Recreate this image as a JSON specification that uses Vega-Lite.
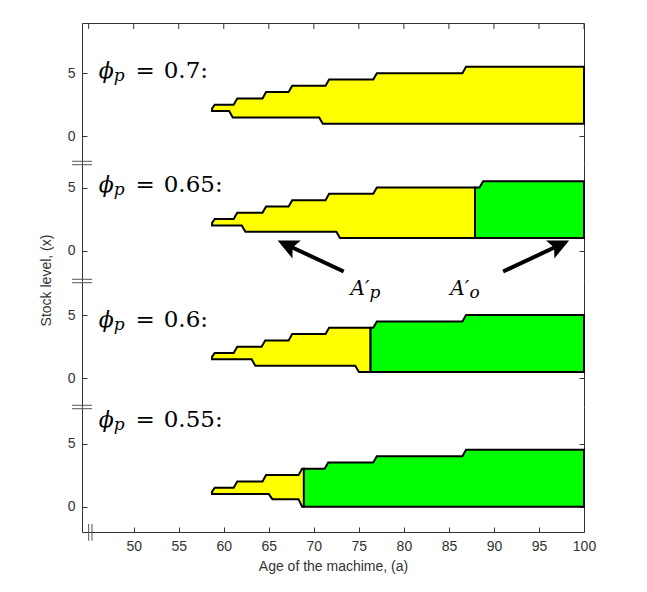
{
  "$schema": "https://vega.github.io/schema/vega-lite/v6.json",
  "padding": {"left": 38, "top": 23, "right": 5, "bottom": 5},
  "background": "white",
  "spacing": 0,
  "bounds": "flush",
  "resolve": {"scale": {"x": "independent", "y": "independent"}, "axis": {"x": "independent", "y": "independent"}},
  "config": {
    "view": {"stroke": null},
    "axis": {
      "grid": false, "domainColor": "#333333", "tickColor": "#333333", "labelColor": "#333333",
      "labelFont": "Liberation Sans", "labelFontSize": 14, "titleFont": "Liberation Sans",
      "titleFontSize": 14, "titleFontWeight": "normal", "titleColor": "#333333",
      "labelFlush": false, "tickSize": -5, "labelPadding": 12, "domainWidth": 1, "tickWidth": 1
    }
  },
  "datasets": {
    "shapes": [
      {"phi":0.7,"region":"Ap","age":58.7,"level":2.2,"level2":2.0},
      {"phi":0.7,"region":"Ap","age":59.0,"level":2.5,"level2":2.0},
      {"phi":0.7,"region":"Ap","age":60.6,"level":2.5,"level2":2.0},
      {"phi":0.7,"region":"Ap","age":61.0,"level":2.5,"level2":1.5},
      {"phi":0.7,"region":"Ap","age":61.1,"level":2.5,"level2":1.5},
      {"phi":0.7,"region":"Ap","age":61.5,"level":3.0,"level2":1.5},
      {"phi":0.7,"region":"Ap","age":64.3,"level":3.0,"level2":1.5},
      {"phi":0.7,"region":"Ap","age":64.7,"level":3.5,"level2":1.5},
      {"phi":0.7,"region":"Ap","age":67.2,"level":3.5,"level2":1.5},
      {"phi":0.7,"region":"Ap","age":67.6,"level":4.0,"level2":1.5},
      {"phi":0.7,"region":"Ap","age":70.6,"level":4.0,"level2":1.5},
      {"phi":0.7,"region":"Ap","age":71.0,"level":4.0,"level2":1.0},
      {"phi":0.7,"region":"Ap","age":71.3,"level":4.0,"level2":1.0},
      {"phi":0.7,"region":"Ap","age":71.7,"level":4.5,"level2":1.0},
      {"phi":0.7,"region":"Ap","age":76.6,"level":4.5,"level2":1.0},
      {"phi":0.7,"region":"Ap","age":77.0,"level":5.0,"level2":1.0},
      {"phi":0.7,"region":"Ap","age":86.5,"level":5.0,"level2":1.0},
      {"phi":0.7,"region":"Ap","age":86.9,"level":5.5,"level2":1.0},
      {"phi":0.7,"region":"Ap","age":100,"level":5.5,"level2":1.0},

      {"phi":0.65,"region":"Ap","age":58.7,"level":2.2,"level2":2.0},
      {"phi":0.65,"region":"Ap","age":59.0,"level":2.5,"level2":2.0},
      {"phi":0.65,"region":"Ap","age":61.1,"level":2.5,"level2":2.0},
      {"phi":0.65,"region":"Ap","age":61.5,"level":3.0,"level2":2.0},
      {"phi":0.65,"region":"Ap","age":62.0,"level":3.0,"level2":2.0},
      {"phi":0.65,"region":"Ap","age":62.4,"level":3.0,"level2":1.5},
      {"phi":0.65,"region":"Ap","age":64.3,"level":3.0,"level2":1.5},
      {"phi":0.65,"region":"Ap","age":64.7,"level":3.5,"level2":1.5},
      {"phi":0.65,"region":"Ap","age":67.2,"level":3.5,"level2":1.5},
      {"phi":0.65,"region":"Ap","age":67.6,"level":4.0,"level2":1.5},
      {"phi":0.65,"region":"Ap","age":71.3,"level":4.0,"level2":1.5},
      {"phi":0.65,"region":"Ap","age":71.7,"level":4.5,"level2":1.5},
      {"phi":0.65,"region":"Ap","age":72.5,"level":4.5,"level2":1.5},
      {"phi":0.65,"region":"Ap","age":72.9,"level":4.5,"level2":1.0},
      {"phi":0.65,"region":"Ap","age":76.6,"level":4.5,"level2":1.0},
      {"phi":0.65,"region":"Ap","age":77.0,"level":5.0,"level2":1.0},
      {"phi":0.65,"region":"Ap","age":87.9,"level":5.0,"level2":1.0},
      {"phi":0.65,"region":"Ao","age":87.9,"level":5.0,"level2":1.0},
      {"phi":0.65,"region":"Ao","age":88.4,"level":5.0,"level2":1.0},
      {"phi":0.65,"region":"Ao","age":88.8,"level":5.5,"level2":1.0},
      {"phi":0.65,"region":"Ao","age":100,"level":5.5,"level2":1.0},

      {"phi":0.6,"region":"Ap","age":58.7,"level":1.7,"level2":1.5},
      {"phi":0.6,"region":"Ap","age":59.0,"level":2.0,"level2":1.5},
      {"phi":0.6,"region":"Ap","age":61.1,"level":2.0,"level2":1.5},
      {"phi":0.6,"region":"Ap","age":61.5,"level":2.5,"level2":1.5},
      {"phi":0.6,"region":"Ap","age":63.1,"level":2.5,"level2":1.5},
      {"phi":0.6,"region":"Ap","age":63.5,"level":2.5,"level2":1.0},
      {"phi":0.6,"region":"Ap","age":64.2,"level":2.5,"level2":1.0},
      {"phi":0.6,"region":"Ap","age":64.6,"level":3.0,"level2":1.0},
      {"phi":0.6,"region":"Ap","age":67.2,"level":3.0,"level2":1.0},
      {"phi":0.6,"region":"Ap","age":67.6,"level":3.5,"level2":1.0},
      {"phi":0.6,"region":"Ap","age":71.3,"level":3.5,"level2":1.0},
      {"phi":0.6,"region":"Ap","age":71.7,"level":4.0,"level2":1.0},
      {"phi":0.6,"region":"Ap","age":74.6,"level":4.0,"level2":1.0},
      {"phi":0.6,"region":"Ap","age":75.0,"level":4.0,"level2":0.5},
      {"phi":0.6,"region":"Ap","age":76.3,"level":4.0,"level2":0.5},
      {"phi":0.6,"region":"Ao","age":76.3,"level":4.0,"level2":0.5},
      {"phi":0.6,"region":"Ao","age":76.6,"level":4.0,"level2":0.5},
      {"phi":0.6,"region":"Ao","age":77.0,"level":4.5,"level2":0.5},
      {"phi":0.6,"region":"Ao","age":86.5,"level":4.5,"level2":0.5},
      {"phi":0.6,"region":"Ao","age":86.9,"level":5.0,"level2":0.5},
      {"phi":0.6,"region":"Ao","age":100,"level":5.0,"level2":0.5},

      {"phi":0.55,"region":"Ap","age":58.7,"level":1.2,"level2":1.0},
      {"phi":0.55,"region":"Ap","age":59.0,"level":1.5,"level2":1.0},
      {"phi":0.55,"region":"Ap","age":61.1,"level":1.5,"level2":1.0},
      {"phi":0.55,"region":"Ap","age":61.5,"level":2.0,"level2":1.0},
      {"phi":0.55,"region":"Ap","age":64.3,"level":2.0,"level2":1.0},
      {"phi":0.55,"region":"Ap","age":64.7,"level":2.5,"level2":1.0},
      {"phi":0.55,"region":"Ap","age":65.0,"level":2.5,"level2":1.0},
      {"phi":0.55,"region":"Ap","age":65.4,"level":2.5,"level2":0.6},
      {"phi":0.55,"region":"Ap","age":68.3,"level":2.5,"level2":0.6},
      {"phi":0.55,"region":"Ap","age":68.7,"level":3.0,"level2":0.0},
      {"phi":0.55,"region":"Ap","age":68.9,"level":3.0,"level2":0.0},
      {"phi":0.55,"region":"Ao","age":68.9,"level":3.0,"level2":0.0},
      {"phi":0.55,"region":"Ao","age":71.2,"level":3.0,"level2":0.0},
      {"phi":0.55,"region":"Ao","age":71.6,"level":3.5,"level2":0.0},
      {"phi":0.55,"region":"Ao","age":76.6,"level":3.5,"level2":0.0},
      {"phi":0.55,"region":"Ao","age":77.0,"level":4.0,"level2":0.0},
      {"phi":0.55,"region":"Ao","age":86.5,"level":4.0,"level2":0.0},
      {"phi":0.55,"region":"Ao","age":86.9,"level":4.5,"level2":0.0},
      {"phi":0.55,"region":"Ao","age":100,"level":4.5,"level2":0.0}
    ],
    "texts": [
      {"phi":0.7,"part":"symbol","text":"ϕ","age":46.11,"level":4.59},
      {"phi":0.7,"part":"sub","text":"p","age":47.78,"level":4.35},
      {"phi":0.7,"part":"value","text":"=","age":50.19,"level":4.59},
      {"phi":0.7,"part":"value","text":"0.7:","age":53.33,"level":4.59},
      {"phi":0.65,"part":"symbol","text":"ϕ","age":46.11,"level":4.62},
      {"phi":0.65,"part":"sub","text":"p","age":47.78,"level":4.38},
      {"phi":0.65,"part":"value","text":"=","age":50.19,"level":4.62},
      {"phi":0.65,"part":"value","text":"0.65:","age":53.33,"level":4.62},
      {"phi":0.6,"part":"symbol","text":"ϕ","age":46.11,"level":4.09},
      {"phi":0.6,"part":"sub","text":"p","age":47.78,"level":3.85},
      {"phi":0.6,"part":"value","text":"=","age":50.19,"level":4.09},
      {"phi":0.6,"part":"value","text":"0.6:","age":53.33,"level":4.09},
      {"phi":0.55,"part":"symbol","text":"ϕ","age":46.11,"level":6.29},
      {"phi":0.55,"part":"sub","text":"p","age":47.78,"level":6.05},
      {"phi":0.55,"part":"value","text":"=","age":50.19,"level":6.29},
      {"phi":0.55,"part":"value","text":"0.55:","age":53.33,"level":6.29},
      {"phi":0.6,"part":"note","text":"A′","age":74.08,"level":6.57},
      {"phi":0.6,"part":"sub","text":"p","age":76.18,"level":6.36},
      {"phi":0.6,"part":"note","text":"A′","age":85.16,"level":6.57},
      {"phi":0.6,"part":"sub","text":"o","age":87.3,"level":6.36}
    ],
    "lines": [
      {"phi":0.65,"kind":"break","age":43.16,"level":7.075,"age2":45.38,"level2":7.075},
      {"phi":0.65,"kind":"break","age":43.16,"level":6.805,"age2":45.38,"level2":6.805},
      {"phi":0.6,"kind":"break","age":43.16,"level":7.835,"age2":45.38,"level2":7.835},
      {"phi":0.6,"kind":"break","age":43.16,"level":7.565,"age2":45.38,"level2":7.565},
      {"phi":0.55,"kind":"break","age":43.16,"level":8.025,"age2":45.38,"level2":8.025},
      {"phi":0.55,"kind":"break","age":43.16,"level":7.755,"age2":45.38,"level2":7.755},
      {"phi":0.55,"kind":"break","age":45.0,"level":-1.37,"age2":45.0,"level2":-2.69},
      {"phi":0.55,"kind":"break","age":45.37,"level":-1.37,"age2":45.37,"level2":-2.69},
      {"phi":0.65,"kind":"arrow","age":73.32,"level":-1.65,"age2":67.09,"level2":0.428},
      {"phi":0.65,"kind":"arrow","age":91.02,"level":-1.65,"age2":97.24,"level2":0.428}
    ],
    "heads": [
      {"phi":0.65,"dir":"left","age":67.09,"level":0.428},
      {"phi":0.65,"dir":"right","age":97.24,"level":0.428}
    ]
  },
  "vconcat": [
    {
      "width": 502, "height": 140,
      "encoding": {
        "x": {"field": "age", "type": "quantitative", "scale": {"domain": [44.26, 100], "nice": false, "zero": false}, "axis": null},
        "y": {"field": "level", "type": "quantitative", "scale": {"domain": [-2.11, 8.97], "nice": false, "zero": false}, "axis": null}
      },
      "layer": [
        {"data": {"name": "shapes"}, "transform": [{"filter": "datum.phi == 0.7 && datum.region == 'Ap'"}],
         "mark": {"type": "area", "orient": "vertical", "fill": "#ffff00", "stroke": "#000000", "strokeWidth": 2},
         "encoding": {
           "y": {"field": "level", "type": "quantitative", "scale": {"domain": [-2.11, 8.97], "nice": false, "zero": false},
                 "axis": {"orient": "left", "values": [0, 5], "title": null}},
           "y2": {"field": "level2"}}},
        {"data": {"name": "shapes"}, "transform": [{"filter": "datum.phi == 0.7 && datum.region == 'Ao'"}],
         "mark": {"type": "area", "orient": "vertical", "fill": "#00ff00", "stroke": "#000000", "strokeWidth": 2},
         "encoding": {
           "y": {"field": "level", "type": "quantitative", "scale": {"domain": [-2.11, 8.97], "nice": false, "zero": false},
                 "axis": {"orient": "right", "values": [0, 5, 8.772, 8.97], "labels": false, "title": null,
                          "grid": true, "gridColor": "#333333",
                          "gridOpacity": {"condition": {"test": "datum.value > 8", "value": 1}, "value": 0},
                          "gridWidth": {"condition": {"test": "datum.value > 8 && datum.value < 8.9", "value": 5}, "value": 1},
                          "gridDash": {"condition": {"test": "datum.value > 8 && datum.value < 8.9", "value": [1, 44.03]}, "value": []},
                          "tickOpacity": {"condition": {"test": "datum.value > 8", "value": 0}, "value": 1}}},
           "y2": {"field": "level2"}}},
        {"data": {"name": "texts"}, "transform": [{"filter": "datum.phi == 0.7 && datum.part == 'symbol'"}],
         "mark": {"type": "text", "align": "left", "baseline": "alphabetic", "font": "DejaVu Serif", "fontStyle": "italic", "fontSize": 22, "color": "#000000"},
         "encoding": {"text": {"field": "text"}}},
        {"data": {"name": "texts"}, "transform": [{"filter": "datum.phi == 0.7 && datum.part == 'sub'"}],
         "mark": {"type": "text", "align": "left", "baseline": "alphabetic", "font": "DejaVu Serif", "fontStyle": "italic", "fontSize": 17, "color": "#000000"},
         "encoding": {"text": {"field": "text"}}},
        {"data": {"name": "texts"}, "transform": [{"filter": "datum.phi == 0.7 && datum.part == 'value'"}],
         "mark": {"type": "text", "align": "left", "baseline": "alphabetic", "font": "DejaVu Serif", "fontSize": 23, "color": "#000000"},
         "encoding": {"text": {"field": "text"}}}
      ],
      "resolve": {"axis": {"y": "independent"}}
    },
    {
      "width": 502, "height": 118,
      "encoding": {
        "x": {"field": "age", "type": "quantitative", "scale": {"domain": [44.26, 100], "nice": false, "zero": false}, "axis": null},
        "y": {"field": "level", "type": "quantitative", "scale": {"domain": [-2.40, 6.94], "nice": false, "zero": false}, "axis": null}
      },
      "layer": [
        {"data": {"name": "shapes"}, "transform": [{"filter": "datum.phi == 0.65 && datum.region == 'Ap'"}],
         "mark": {"type": "area", "orient": "vertical", "fill": "#ffff00", "stroke": "#000000", "strokeWidth": 2},
         "encoding": {
           "y": {"field": "level", "type": "quantitative", "scale": {"domain": [-2.40, 6.94], "nice": false, "zero": false},
                 "axis": {"orient": "left", "values": [0, 5], "title": null}},
           "y2": {"field": "level2"}}},
        {"data": {"name": "shapes"}, "transform": [{"filter": "datum.phi == 0.65 && datum.region == 'Ao'"}],
         "mark": {"type": "area", "orient": "vertical", "fill": "#00ff00", "stroke": "#000000", "strokeWidth": 2},
         "encoding": {
           "y": {"field": "level", "type": "quantitative", "scale": {"domain": [-2.40, 6.94], "nice": false, "zero": false},
                 "axis": {"orient": "right", "values": [0, 5], "labels": false, "title": null}},
           "y2": {"field": "level2"}}},
        {"data": {"name": "texts"}, "transform": [{"filter": "datum.phi == 0.65 && datum.part == 'symbol'"}],
         "mark": {"type": "text", "align": "left", "baseline": "alphabetic", "font": "DejaVu Serif", "fontStyle": "italic", "fontSize": 22, "color": "#000000"},
         "encoding": {"text": {"field": "text"}}},
        {"data": {"name": "texts"}, "transform": [{"filter": "datum.phi == 0.65 && datum.part == 'sub'"}],
         "mark": {"type": "text", "align": "left", "baseline": "alphabetic", "font": "DejaVu Serif", "fontStyle": "italic", "fontSize": 17, "color": "#000000"},
         "encoding": {"text": {"field": "text"}}},
        {"data": {"name": "texts"}, "transform": [{"filter": "datum.phi == 0.65 && datum.part == 'value'"}],
         "mark": {"type": "text", "align": "left", "baseline": "alphabetic", "font": "DejaVu Serif", "fontSize": 23, "color": "#000000"},
         "encoding": {"text": {"field": "text"}}},
        {"data": {"name": "lines"}, "transform": [{"filter": "datum.phi == 0.65 && datum.kind == 'break'"}],
         "mark": {"type": "rule", "color": "#555555", "strokeWidth": 1},
         "encoding": {"x2": {"field": "age2"}, "y2": {"field": "level2"}}},
        {"data": {"name": "lines"}, "transform": [{"filter": "datum.phi == 0.65 && datum.kind == 'arrow'"}],
         "mark": {"type": "rule", "color": "#000000", "strokeWidth": 4},
         "encoding": {"x2": {"field": "age2"}, "y2": {"field": "level2"}}},
        {"data": {"name": "heads"}, "transform": [{"filter": "datum.dir == 'left'"}],
         "mark": {"type": "point", "shape": "M0,-1L0.9,0.9L0,0.5L-0.9,0.9Z", "filled": true, "fill": "#000000", "opacity": 1, "strokeWidth": 0, "size": 484, "angle": 295}},
        {"data": {"name": "heads"}, "transform": [{"filter": "datum.dir == 'right'"}],
         "mark": {"type": "point", "shape": "M0,-1L0.9,0.9L0,0.5L-0.9,0.9Z", "filled": true, "fill": "#000000", "opacity": 1, "strokeWidth": 0, "size": 484, "angle": 65}}
      ],
      "resolve": {"axis": {"y": "independent"}}
    },
    {
      "width": 502, "height": 126,
      "encoding": {
        "x": {"field": "age", "type": "quantitative", "scale": {"domain": [44.26, 100], "nice": false, "zero": false}, "axis": null},
        "y": {"field": "level", "type": "quantitative", "scale": {"domain": [-2.27, 7.70], "nice": false, "zero": false}, "axis": null}
      },
      "layer": [
        {"data": {"name": "shapes"}, "transform": [{"filter": "datum.phi == 0.6 && datum.region == 'Ap'"}],
         "mark": {"type": "area", "orient": "vertical", "fill": "#ffff00", "stroke": "#000000", "strokeWidth": 2},
         "encoding": {
           "y": {"field": "level", "type": "quantitative", "scale": {"domain": [-2.27, 7.70], "nice": false, "zero": false},
                 "axis": {"orient": "left", "values": [0, 5], "title": "Stock level, (x)", "titleX": -36, "titleY": -1,
                          "titleAngle": -90, "titleAlign": "center", "titleBaseline": "middle"}},
           "y2": {"field": "level2"}}},
        {"data": {"name": "shapes"}, "transform": [{"filter": "datum.phi == 0.6 && datum.region == 'Ao'"}],
         "mark": {"type": "area", "orient": "vertical", "fill": "#00ff00", "stroke": "#000000", "strokeWidth": 2},
         "encoding": {
           "y": {"field": "level", "type": "quantitative", "scale": {"domain": [-2.27, 7.70], "nice": false, "zero": false},
                 "axis": {"orient": "right", "values": [0, 5], "labels": false, "title": null}},
           "y2": {"field": "level2"}}},
        {"data": {"name": "texts"}, "transform": [{"filter": "datum.phi == 0.6 && datum.part == 'symbol'"}],
         "mark": {"type": "text", "align": "left", "baseline": "alphabetic", "font": "DejaVu Serif", "fontStyle": "italic", "fontSize": 22, "color": "#000000"},
         "encoding": {"text": {"field": "text"}}},
        {"data": {"name": "texts"}, "transform": [{"filter": "datum.phi == 0.6 && datum.part == 'sub'"}],
         "mark": {"type": "text", "align": "left", "baseline": "alphabetic", "font": "DejaVu Serif", "fontStyle": "italic", "fontSize": 17, "color": "#000000"},
         "encoding": {"text": {"field": "text"}}},
        {"data": {"name": "texts"}, "transform": [{"filter": "datum.phi == 0.6 && datum.part == 'value'"}],
         "mark": {"type": "text", "align": "left", "baseline": "alphabetic", "font": "DejaVu Serif", "fontSize": 23, "color": "#000000"},
         "encoding": {"text": {"field": "text"}}},
        {"data": {"name": "texts"}, "transform": [{"filter": "datum.phi == 0.6 && datum.part == 'note'"}],
         "mark": {"type": "text", "align": "left", "baseline": "alphabetic", "font": "DejaVu Serif", "fontStyle": "italic", "fontSize": 20, "color": "#000000"},
         "encoding": {"text": {"field": "text"}}},
        {"data": {"name": "lines"}, "transform": [{"filter": "datum.phi == 0.6 && datum.kind == 'break'"}],
         "mark": {"type": "rule", "color": "#555555", "strokeWidth": 1},
         "encoding": {"x2": {"field": "age2"}, "y2": {"field": "level2"}}}
      ],
      "resolve": {"axis": {"y": "independent"}}
    },
    {
      "width": 502, "height": 125,
      "encoding": {
        "x": {"field": "age", "type": "quantitative", "scale": {"domain": [44.26, 100], "nice": false, "zero": false},
              "axis": {"orient": "bottom", "values": [50,55,60,65,70,75,80,85,90,95,100], "title": "Age of the machime, (a)",
                       "titleY": 34, "titleBaseline": "middle"}},
        "y": {"field": "level", "type": "quantitative", "scale": {"domain": [-2.0, 7.89], "nice": false, "zero": false}, "axis": null}
      },
      "layer": [
        {"data": {"name": "shapes"}, "transform": [{"filter": "datum.phi == 0.55 && datum.region == 'Ap'"}],
         "mark": {"type": "area", "orient": "vertical", "fill": "#ffff00", "stroke": "#000000", "strokeWidth": 2},
         "encoding": {
           "y": {"field": "level", "type": "quantitative", "scale": {"domain": [-2.0, 7.89], "nice": false, "zero": false},
                 "axis": {"orient": "left", "values": [0, 5], "title": null}},
           "y2": {"field": "level2"}}},
        {"data": {"name": "shapes"}, "transform": [{"filter": "datum.phi == 0.55 && datum.region == 'Ao'"}],
         "mark": {"type": "area", "orient": "vertical", "fill": "#00ff00", "stroke": "#000000", "strokeWidth": 2},
         "encoding": {
           "y": {"field": "level", "type": "quantitative", "scale": {"domain": [-2.0, 7.89], "nice": false, "zero": false},
                 "axis": {"orient": "right", "values": [0, 5], "labels": false, "title": null}},
           "y2": {"field": "level2"}}},
        {"data": {"name": "texts"}, "transform": [{"filter": "datum.phi == 0.55 && datum.part == 'symbol'"}],
         "mark": {"type": "text", "align": "left", "baseline": "alphabetic", "font": "DejaVu Serif", "fontStyle": "italic", "fontSize": 22, "color": "#000000"},
         "encoding": {"text": {"field": "text"}}},
        {"data": {"name": "texts"}, "transform": [{"filter": "datum.phi == 0.55 && datum.part == 'sub'"}],
         "mark": {"type": "text", "align": "left", "baseline": "alphabetic", "font": "DejaVu Serif", "fontStyle": "italic", "fontSize": 17, "color": "#000000"},
         "encoding": {"text": {"field": "text"}}},
        {"data": {"name": "texts"}, "transform": [{"filter": "datum.phi == 0.55 && datum.part == 'value'"}],
         "mark": {"type": "text", "align": "left", "baseline": "alphabetic", "font": "DejaVu Serif", "fontSize": 23, "color": "#000000"},
         "encoding": {"text": {"field": "text"}}},
        {"data": {"name": "lines"}, "transform": [{"filter": "datum.phi == 0.55 && datum.kind == 'break'"}],
         "mark": {"type": "rule", "color": "#555555", "strokeWidth": 1},
         "encoding": {"x2": {"field": "age2"}, "y2": {"field": "level2"}}}
      ],
      "resolve": {"axis": {"y": "independent"}}
    }
  ]
}
